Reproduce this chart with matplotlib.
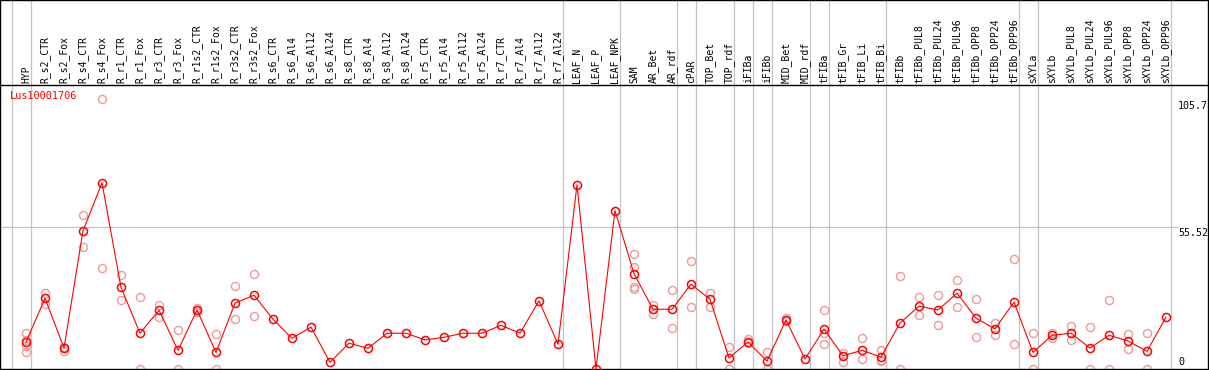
import matplotlib
matplotlib.use("Agg")
import matplotlib.pyplot as plt
import matplotlib.transforms as mtransforms

#Chart data
gene = "Lus10001706"

samples = ["HYP", "R_s2_CTR", "R_s2_Fox", "R_s4_CTR", "R_s4_Fox", "R_r1_CTR", "R_r1_Fox",
           "R_r3_CTR", "R_r3_Fox", "R_r1s2_CTR", "R_r1s2_Fox", "R_r3s2_CTR", "R_r3s2_Fox",
           "R_s6_CTR", "R_s6_Al4", "R_s6_Al12", "R_s6_Al24", "R_s8_CTR", "R_s8_Al4",
           "R_s8_Al12", "R_s8_Al24", "R_r5_CTR", "R_r5_Al4", "R_r5_Al12", "R_r5_Al24",
           "R_r7_CTR", "R_r7_Al4", "R_r7_Al12", "R_r7_Al24", "LEAF_N", "LEAF_P", "LEAF_NPK",
           "SAM", "AR_Bet", "AR_rdf", "cPAR", "TOP_Bet", "TOP_rdf", "iFIBa", "iFIBb",
           "MID_Bet", "MID_rdf", "tFIBa", "tFIB_Gr", "tFIB_Li", "tFIB_Bi", "tFIBb",
           "tFIBb_PUL8", "tFIBb_PUL24", "tFIBb_PUL96", "tFIBb_OPP8", "tFIBb_OPP24",
           "tFIBb_OPP96", "sXYLa", "sXYLb", "sXYLb_PUL8", "sXYLb_PUL24", "sXYLb_PUL96",
           "sXYLb_OPP8", "sXYLb_OPP24", "sXYLb_OPP96"]

means = [10.5, 27.7, 8.2, 54.1, 72.9, 32.0, 14.0, 23.0, 7.3, 23.1, 6.5, 25.8, 28.9,
         19.5, 12.0, 16.4, 2.6, 10.1, 8.1, 14.0, 14.0, 11.4, 12.4, 14.0, 14.0,
         17.1, 14.0, 26.7, 9.7, 72.1, 0.0, 62.0,
         37.3, 23.4, 23.4, 33.2, 27.3, 4.3, 10.6, 3.1, 19.2, 3.9, 15.6, 5.2, 7.3, 4.7,
         18.0, 24.6, 23.1, 29.7, 19.9, 15.7, 26.2, 6.5, 13.2, 14.0, 8.2, 13.2, 11.0,
         6.9, 20.3]

replicates = [[14.1, 11.5, 9.0, 6.8], [29.9, 25.4], [8.5, 7.1], [60.3, 47.7], [105.7, 39.5],
              [36.8, 27.0], [28.1, 0.0], [25.1, 20.4], [15.2, 0.0], [24.0, 22.2],
              [13.6, 0.0], [32.6, 19.5], [37.1, 20.7],
              [], [], [], [], [], [], [], [], [], [], [], [], [], [], [], [], [], [], [],
              [45.1, 39.9, 32.3, 31.5], [25.1, 21.5], [30.9, 16.0], [42.3, 24.2],
              [29.8, 24.4], [8.6, 0.0], [11.6, 10.1], [6.5, 0.0], [20.0, 18.6], [],
              [23.0, 14.0, 9.7], [6.4, 2.9], [12.0, 3.8], [7.5, 3.5, 3.0], [36.5, 0.0],
              [28.2, 21.1], [29.0, 17.1], [34.8, 24.2], [27.3, 12.6], [18.0, 13.2],
              [43.0, 9.7], [14.1, 0.0], [14.1, 12.0], [16.7, 11.5], [16.4, 0.0],
              [27.0, 0.0], [13.7, 7.7], [14.0, 0.0], []]

#group separators drawn after these sample indices
group_ends = [-1, 0, 28, 31, 34, 35, 37, 38, 39, 41, 42, 45, 52, 53, 60]

y_ticks = [0, 55.52, 105.7]
y_top = 111.2

#Figure layout (pixel based)
W, H = 1209, 370
fig = plt.figure(figsize=(W / 100, H / 100), dpi=100)
plt.rcParams['font.family'] = ['DejaVu Sans Mono']

right_px = 1208
header_px = 85
bottom_px = 369
x0_px, step_px = 26, 19
xlim = (-x0_px / step_px, (right_px - x0_px) / step_px)

ax = fig.add_axes([0, (H - bottom_px) / H, right_px / W, (bottom_px - header_px) / H])
axh = fig.add_axes([0, (H - header_px) / H, right_px / W, header_px / H])

for a in (ax, axh):
    a.set_xlim(*xlim)
    a.set_xticks([])
    a.set_yticks([])
    for s in a.spines.values():
        s.set_color("black")
        s.set_linewidth(1.0)
    for g in group_ends:
        a.axvline(g + 0.24, color="#c4c4c4", lw=0.9, zorder=1)

ax.set_ylim(0, y_top)
axh.set_ylim(0, header_px)
ax.spines["top"].set_visible(False)

#header labels
for i, name in enumerate(samples):
    axh.text(i, 2, name, rotation=90, ha="center", va="bottom", fontsize=7.0, color="black")

#horizontal guide line + right labels
ax.axhline(55.52, xmin=0, xmax=1178 / right_px, color="#c4c4c4", lw=0.9, zorder=1)
trans = mtransforms.blended_transform_factory(ax.transAxes, ax.transData)
ax.text(1178 / right_px, 104.8, "105.7", transform=trans, ha="left", va="top", fontsize=7.2)
ax.text(1178 / right_px, 55.3, "55.52", transform=trans, ha="left", va="top", fontsize=7.2)
ax.text(1178 / right_px, 0.9, "0", transform=trans, ha="left", va="bottom", fontsize=7.2)

#replicate points
rx, ry = [], []
for i, reps in enumerate(replicates):
    for v in reps:
        rx.append(i)
        ry.append(v)
ax.plot(rx, ry, linestyle="none", marker="o", markersize=5.8, mfc="none",
        mec="#ee9a9a", mew=1.0, clip_on=False, zorder=2)

#mean line
ax.plot(range(len(means)), means, color="red", lw=0.8, marker="o", markersize=5.8,
        mfc="none", mec="red", mew=1.1, clip_on=False, zorder=3)

ax.text(10 / right_px, 0.978, gene, transform=ax.transAxes, ha="left", va="top",
        fontsize=7.4, color="red")

fig.savefig("out.png", dpi=100)
